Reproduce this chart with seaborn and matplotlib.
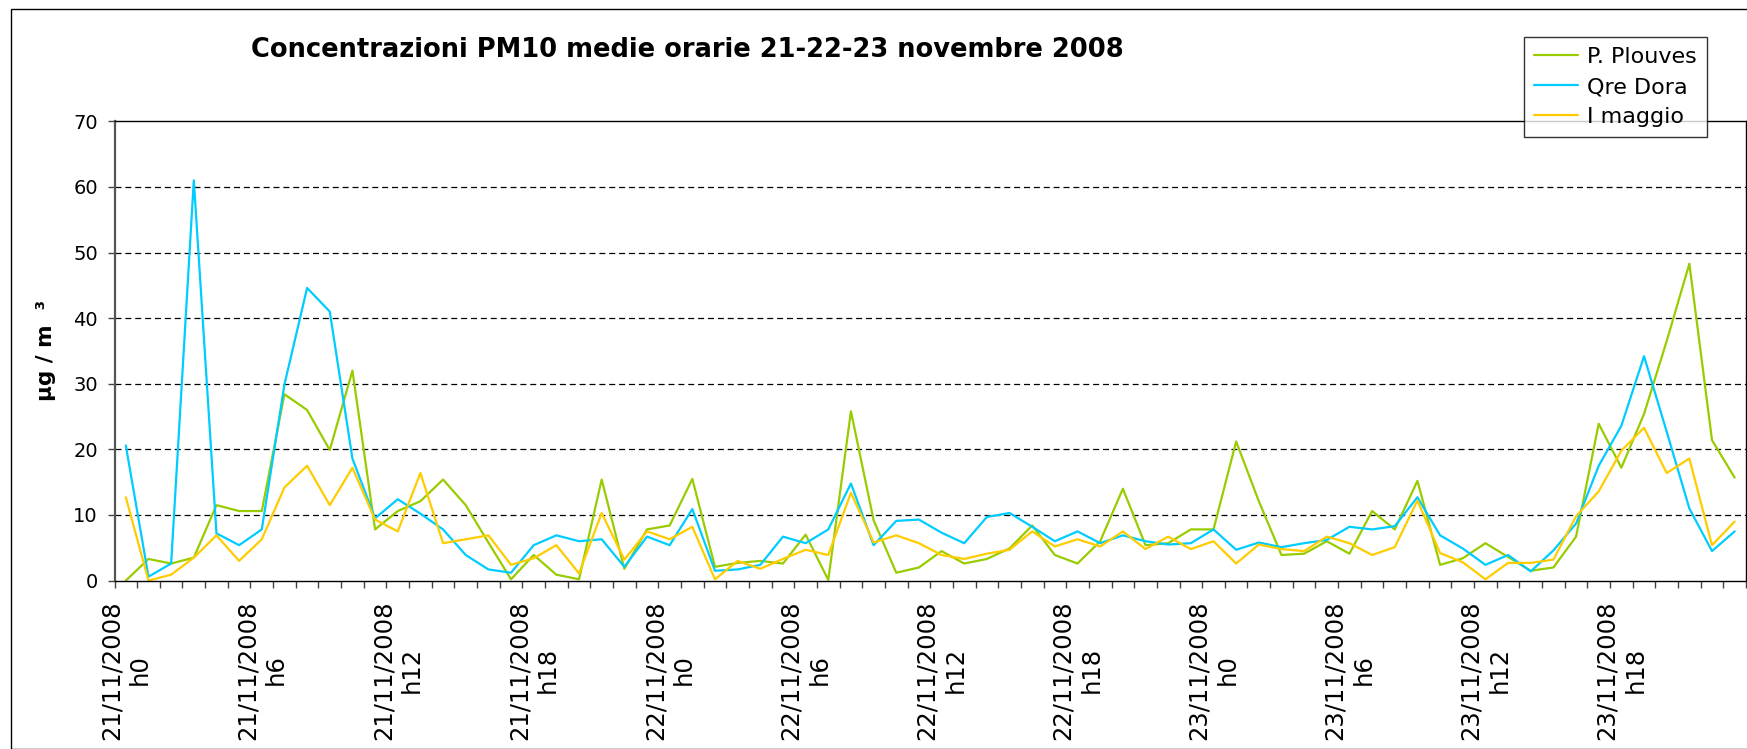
import matplotlib
matplotlib.use("Agg")
import matplotlib.pyplot as plt
import matplotlib.patches as mpatches
import pandas as pd
import seaborn as sns

# hourly PM10 means, 21-23 Nov 2008 (72 hours)
plouves = [
    0.0, 3.3, 2.6, 3.5, 11.5, 10.6, 10.6, 28.4, 26.0, 19.9, 32.0, 7.8,
    10.6, 12.1, 15.4, 11.5, 5.8, 0.2, 3.9, 0.9, 0.2, 15.4, 1.8, 7.8,
    8.4, 15.5, 2.1, 2.7, 3.0, 2.6, 7.0, 0.1, 25.8, 9.2, 1.2, 2.0,
    4.5, 2.6, 3.3, 4.9, 8.4, 3.9, 2.6, 6.0, 14.0, 5.4, 5.7, 7.8,
    7.8, 21.2, 12.1, 3.9, 4.1, 6.0, 4.1, 10.6, 7.8, 15.2, 2.4, 3.4,
    5.7, 3.6, 1.5, 2.0, 6.7, 23.9, 17.2, 25.4, 36.5, 48.3, 21.4, 15.7,
]
dora = [
    20.6, 0.6, 2.6, 61.0, 7.2, 5.4, 7.8, 29.9, 44.6, 41.0, 18.6, 9.5,
    12.4, 10.2, 7.8, 3.9, 1.7, 1.2, 5.4, 6.9, 6.0, 6.3, 2.1, 6.7,
    5.4, 10.9, 1.5, 1.7, 2.4, 6.7, 5.7, 7.8, 14.8, 5.4, 9.1, 9.3,
    7.3, 5.7, 9.7, 10.3, 8.2, 6.0, 7.5, 5.7, 6.9, 6.0, 5.5, 5.7,
    7.8, 4.7, 5.8, 5.1, 5.7, 6.2, 8.2, 7.8, 8.3, 12.7, 6.9, 4.9,
    2.4, 3.9, 1.4, 4.6, 8.7, 17.5, 23.6, 34.2, 22.7, 11.0, 4.5, 7.5,
]
maggio = [
    12.7, 0.0, 0.9, 3.5, 6.9, 3.0, 6.3, 14.2, 17.5, 11.5, 17.2, 9.3,
    7.5, 16.4, 5.7, 6.3, 6.9, 2.4, 3.4, 5.4, 1.1, 10.3, 3.2, 7.5,
    6.3, 8.2, 0.2, 3.0, 1.8, 3.3, 4.7, 3.9, 13.4, 5.8, 6.9, 5.7,
    3.9, 3.3, 4.1, 4.7, 7.5, 5.2, 6.3, 5.2, 7.5, 4.8, 6.7, 4.8,
    6.0, 2.6, 5.5, 4.8, 4.5, 6.7, 5.7, 3.9, 5.1, 12.2, 4.2, 2.8,
    0.2, 2.7, 2.7, 3.2, 9.8, 13.6, 19.8, 23.3, 16.4, 18.6, 5.4, 9.0,
]
stations = ["P. Plouves", "Qre Dora", "I maggio"]
colors = {"P. Plouves": "#99CC00", "Qre Dora": "#00CCFF", "I maggio": "#FFCC00"}
tick_labels = [
    "21/11/2008\nh0", "21/11/2008\nh6", "21/11/2008\nh12", "21/11/2008\nh18",
    "22/11/2008\nh0", "22/11/2008\nh6", "22/11/2008\nh12", "22/11/2008\nh18",
    "23/11/2008\nh0", "23/11/2008\nh6", "23/11/2008\nh12", "23/11/2008\nh18",
]

hours = list(range(len(plouves)))
data = pd.concat([
    pd.DataFrame({"hour": hours, "pm10": vals, "station": name})
    for name, vals in zip(stations, [plouves, dora, maggio])
])

sns.set_style("white")
plt.rcParams["font.family"] = ["DejaVu Sans"]
for k in ["text.color", "axes.labelcolor", "xtick.color", "ytick.color"]:
    plt.rcParams[k] = "black"

fig = plt.figure(figsize=(17.47, 7.49), dpi=100)
ax = fig.add_axes([114.5 / 1747, 1 - 580.6 / 749, (1746 - 114.5) / 1747, (580.6 - 121.3) / 749])

sns.lineplot(
    data=data, x="hour", y="pm10", hue="station", hue_order=stations,
    palette=colors, linewidth=1.6, ax=ax, legend=False
)

ax.set_xlim(-0.5, len(hours) - 0.5)
ax.set_ylim(0, 70)
ax.set_yticks(range(0, 71, 10))
ax.tick_params(axis="y", labelsize=14, length=5, width=1, color="#444444", pad=7, left=True)

ax.set_xticks(range(0, len(hours), 6))
ax.set_xticklabels(tick_labels, rotation=90, ha="center", va="top",
                   multialignment="center", fontsize=17.5, linespacing=1.25)
ax.set_xticks([h - 0.5 for h in range(len(hours) + 1)], minor=True)
ax.tick_params(axis="x", which="major", length=0, pad=14)
ax.tick_params(axis="x", which="minor", length=5, width=1, color="#444444", bottom=True)

for y in range(10, 70, 10):
    ax.axhline(y, color="black", linewidth=0.9, linestyle=(0, (4.8, 3.1)), zorder=0)

for s in ax.spines.values():
    s.set_color("black")
    s.set_linewidth(1.0)
ax.spines["left"].set_color("#555555")
ax.spines["left"].set_linewidth(1.6)

ax.set_xlabel("")
ax.set_ylabel("µg / m  ³", fontsize=15.5, fontweight="bold", labelpad=12)

fig.text(687 / 1747, 1 - 50 / 749, "Concentrazioni PM10 medie orarie 21-22-23 novembre 2008",
         ha="center", va="center", fontsize=18.5, fontweight="bold")

handles = [plt.Line2D([], [], color=colors[s], linewidth=1.6) for s in stations]
leg = fig.legend(handles, stations, loc="upper left",
                 bbox_to_anchor=(1524 / 1747, 1 - 37 / 749), fontsize=16,
                 frameon=True, fancybox=False, edgecolor="black",
                 handlelength=2.0, handletextpad=0.4, labelspacing=0.45,
                 borderpad=0.45, borderaxespad=0)
leg.get_frame().set_linewidth(1.0)

# outer chart-area border
fig.patches.append(mpatches.Rectangle((11 / 1747, 0), 1, 1 - 9 / 749, transform=fig.transFigure,
                                      fill=False, edgecolor="black", linewidth=1.0))

fig.savefig("out.png", dpi=100)
